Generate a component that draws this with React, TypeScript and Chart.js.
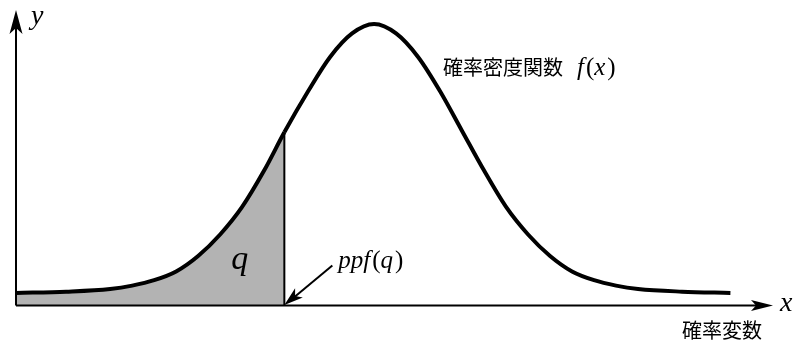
import React, { useEffect, useRef } from "react";
import { Chart, registerables } from "chart.js";

Chart.register(...registerables);

// standardized random-variable positions
const zValues = [-4.07, -3.5, -3.0, -2.75, -2.5, -2.25, -2.0, -1.75, -1.5, -1.25, -1.02, -0.75, -0.5, -0.25, 0, 0.25, 0.5, 0.75, 1.0, 1.25, 1.5, 1.75, 2.0, 2.25, 2.5, 2.75, 3.0, 3.5, 4.05];
// density values
const density = [0.0, 0.002, 0.006, 0.011, 0.019, 0.032, 0.055, 0.087, 0.128, 0.182, 0.239, 0.3, 0.351, 0.386, 0.4, 0.386, 0.351, 0.3, 0.241, 0.182, 0.128, 0.087, 0.055, 0.032, 0.019, 0.011, 0.006, 0.002, 0.0];
const ppfValue = -1.02;
const ppfDensity = 0.239;
const xRange = [-4.07, 4.534];
const yRange = [-0.0186, 0.4208];

const labelPdf = "確率密度関数";
const labelVar = "確率変数";

const GRAY = "#b3b3b3";
const SERIF = "'Liberation Serif', 'Times New Roman', serif";
const CJK = "'Noto Sans CJK JP', 'Noto Sans', sans-serif";

function arrowHead(ctx: CanvasRenderingContext2D, tx: number, ty: number, ux: number, uy: number, L: number, w: number, n: number) {
  const px = -uy, py = ux;
  ctx.beginPath();
  ctx.moveTo(tx, ty);
  ctx.lineTo(tx - ux * L + px * w, ty - uy * L + py * w);
  ctx.lineTo(tx - ux * (L - n), ty - uy * (L - n));
  ctx.lineTo(tx - ux * L - px * w, ty - uy * L - py * w);
  ctx.closePath();
  ctx.fill();
}

function mathText(ctx: CanvasRenderingContext2D, parts: [string, boolean][], x: number, y: number, size: number) {
  let cx = x;
  for (const [t, italic] of parts) {
    ctx.font = `${italic ? "italic " : ""}${size}px ${SERIF}`;
    ctx.fillText(t, cx, y);
    cx += ctx.measureText(t).width + (italic ? 2 : 0);
  }
}

const decorations = {
  id: "decorations",
  afterDraw(chart: any) {
    const ctx: CanvasRenderingContext2D = chart.ctx;
    const xs = chart.scales.x;
    const ys = chart.scales.y;
    const x0 = xs.getPixelForValue(xRange[0]);
    const y0 = ys.getPixelForValue(yRange[0]);
    const xEnd = xs.getPixelForValue(xRange[1]);
    const yEnd = ys.getPixelForValue(yRange[1]);
    ctx.save();
    ctx.fillStyle = "#000";
    ctx.strokeStyle = "#000";
    ctx.lineWidth = 2;
    // axes
    ctx.beginPath();
    ctx.moveTo(x0, y0);
    ctx.lineTo(xEnd - 16, y0);
    ctx.moveTo(x0, y0);
    ctx.lineTo(x0, yEnd + 16);
    ctx.stroke();
    arrowHead(ctx, xEnd, y0, 1, 0, 22, 5.5, 5);
    arrowHead(ctx, x0, yEnd, 0, -1, 24, 6.5, 6);

    // ppf arrow
    const ppfX = xs.getPixelForValue(ppfValue);
    const sx = ppfX + 48, sy = y0 - 40;
    const dx = ppfX - sx, dy = y0 - sy;
    const len = Math.hypot(dx, dy);
    const ux = dx / len, uy = dy / len;
    ctx.lineWidth = 2;
    ctx.beginPath();
    ctx.moveTo(sx, sy);
    ctx.lineTo(ppfX - ux * 12, y0 - uy * 12);
    ctx.stroke();
    arrowHead(ctx, ppfX, y0 - 0.5, ux, uy, 19, 6, 5);

    // texts
    ctx.textBaseline = "alphabetic";
    ctx.textAlign = "left";
    ctx.font = `italic 28px ${SERIF}`;
    ctx.fillText("y", x0 + 15, 24);
    ctx.fillText("x", xEnd + 7, y0 + 5);

    ctx.font = `italic 34px ${SERIF}`;
    ctx.fillText("q", ppfX - 53, y0 - 37);

    // ppf(q)
    mathText(ctx, [["ppf", true], ["(", false], ["q", true], [")", false]], ppfX + 54, y0 - 38, 25);

    // curve label
    ctx.font = `20px ${CJK}`;
    ctx.fillText(labelPdf, 443, 75);
    const lx = 443 + ctx.measureText(labelPdf).width + 14;
    mathText(ctx, [["f", true], ["(", false], ["x", true], [")", false]], lx, 75, 25);

    // x-axis variable label
    ctx.font = `20px ${CJK}`;
    ctx.fillText(labelVar, 682, 338);
    ctx.restore();
  },
};

export default function App() {
  const ref = useRef<HTMLCanvasElement>(null);
  useEffect(() => {
    if (!ref.current) return;
    const curve = zValues.map((z, i) => ({ x: z, y: density[i] }));
    const chart = new Chart(ref.current, {
      type: "line",
      data: {
        datasets: [
          {
            data: curve,
            borderColor: "#000",
            borderWidth: 4,
            backgroundColor: "rgba(0,0,0,0)",
            fill: "start",
            pointRadius: 0,
            cubicInterpolationMode: "monotone",
            segment: {
              backgroundColor: (c: any) => (c.p1.parsed.x <= ppfValue + 1e-9 ? GRAY : "rgba(0,0,0,0)"),
            },
          } as any,
          {
            data: [
              { x: ppfValue, y: yRange[0] },
              { x: ppfValue, y: ppfDensity },
            ],
            borderColor: "#000",
            borderWidth: 2,
            pointRadius: 0,
            fill: false,
          },
        ],
      },
      options: {
        responsive: false,
        animation: false,
        layout: { padding: { left: 16, right: 25, top: 10, bottom: 38.5 } },
        plugins: {
          legend: { display: false },
          tooltip: { enabled: false },
          filler: { drawTime: "beforeDatasetsDraw" },
        } as any,
        scales: {
          x: { type: "linear", display: false, min: xRange[0], max: xRange[1] },
          y: { type: "linear", display: false, min: yRange[0], max: yRange[1] },
        },
      },
      plugins: [decorations],
    });
    return () => chart.destroy();
  }, []);
  return (
    <div style={{ position: "fixed", left: 0, top: 0, width: 798, height: 344, background: "#fff" }}>
      <canvas ref={ref} width={798} height={344} />
    </div>
  );
}
